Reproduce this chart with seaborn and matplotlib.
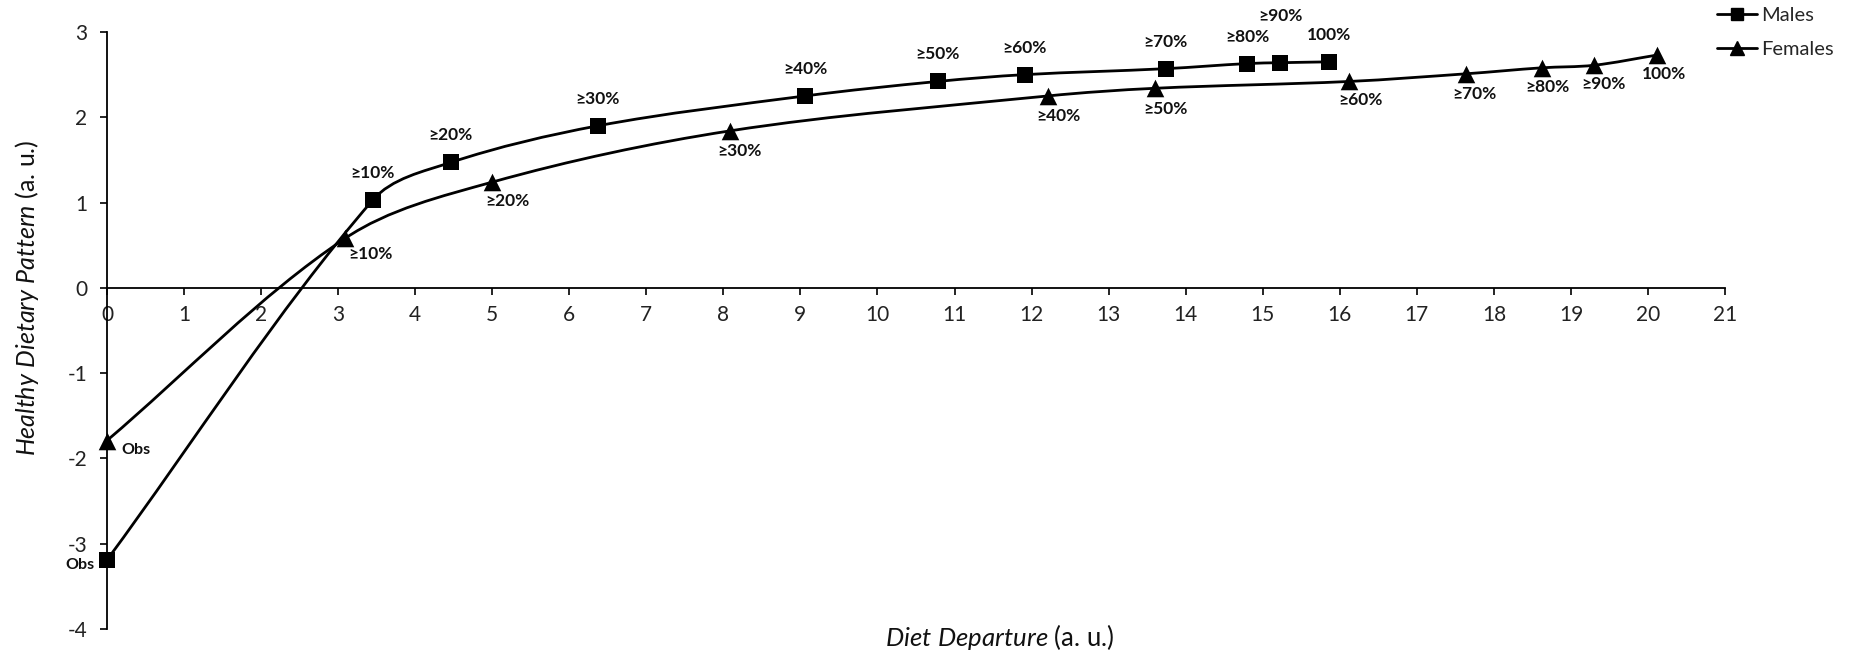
import numpy as np
import pandas as pd
import matplotlib
matplotlib.use("Agg")
import matplotlib.pyplot as plt
import seaborn as sns
from matplotlib.path import Path
from matplotlib.patches import PathPatch
from matplotlib.lines import Line2D

# ---------------- data ----------------
point_labels = ["Obs", "≥10%", "≥20%", "≥30%", "≥40%", "≥50%",
                "≥60%", "≥70%", "≥80%", "≥90%", "100%"]
males_x = [0.0, 3.45, 4.46, 6.37, 9.06, 10.78, 11.91, 13.74, 14.80, 15.23, 15.86]
males_y = [-3.19, 1.03, 1.47, 1.90, 2.25, 2.42, 2.50, 2.57, 2.63, 2.64, 2.65]
females_x = [0.0, 3.09, 5.00, 8.08, 12.21, 13.60, 16.12, 17.64, 18.62, 19.30, 20.12]
females_y = [-1.79, 0.58, 1.24, 1.84, 2.25, 2.34, 2.42, 2.51, 2.58, 2.61, 2.73]
series_names = ["Males", "Females"]
x_ticks = list(range(0, 22))
y_ticks = list(range(-4, 4))

df = pd.concat([
    pd.DataFrame({"x": males_x, "y": males_y, "label": point_labels, "Sex": "Males"}),
    pd.DataFrame({"x": females_x, "y": females_y, "label": point_labels, "Sex": "Females"}),
], ignore_index=True)

# ---------------- style ----------------
sns.set_theme(style="ticks")
plt.rcParams["font.family"] = ["Lato", "DejaVu Sans"]
plt.rcParams["mathtext.fontset"] = "custom"
plt.rcParams["mathtext.rm"] = "Lato"
plt.rcParams["mathtext.it"] = "Lato:italic"
plt.rcParams["mathtext.bf"] = "Lato:bold"
plt.rcParams["axes.unicode_minus"] = False

W, H = 1852, 657
fig = plt.figure(figsize=(W / 100, H / 100), dpi=100)
fig.patch.set_facecolor("white")
ax = fig.add_axes([107 / W, 1 - 629 / H, (1725 - 107) / W, (629 - 32) / H])
ax.set_xlim(0, 21)
ax.set_ylim(-4, 3)

ax.spines["top"].set_visible(False)
ax.spines["right"].set_visible(False)
ax.spines["bottom"].set_position(("data", 0))
for s in ("left", "bottom"):
    ax.spines[s].set_color("black")
    ax.spines[s].set_linewidth(1.3)
ax.set_xticks(x_ticks)
ax.set_yticks(y_ticks)
ax.tick_params(axis="both", direction="out", length=5, width=1.2, color="black",
               labelsize=15, labelcolor="#222222")
ax.tick_params(axis="x", pad=7)
ax.tick_params(axis="y", pad=9)


def smooth_path(ax, xs, ys):
    pts = ax.transData.transform(np.column_stack([xs, ys]))
    n = len(pts)
    tang = []
    for i in range(n):
        if i == 0:
            d = pts[1] - pts[0]
        elif i == n - 1:
            d = pts[-1] - pts[-2]
        else:
            d = pts[i + 1] - pts[i - 1]
        tang.append(d / np.linalg.norm(d))
    verts = [pts[0]]
    codes = [Path.MOVETO]
    for i in range(n - 1):
        L = np.linalg.norm(pts[i + 1] - pts[i])
        c1 = pts[i] + tang[i] * L / 3
        c2 = pts[i + 1] - tang[i + 1] * L / 3
        verts += [c1, c2, pts[i + 1]]
        codes += [Path.CURVE4] * 3
    verts = ax.transData.inverted().transform(np.array(verts))
    return Path(verts, codes)


marker_map = {"Males": "s", "Females": "^"}
size_map = {"Males": 120, "Females": 160}
for name in series_names:
    sub = df[df["Sex"] == name]
    patch = PathPatch(smooth_path(ax, sub["x"].values, sub["y"].values),
                      facecolor="none", edgecolor="black", lw=2.0,
                      transform=ax.transData, zorder=3, clip_on=False)
    ax.add_patch(patch)
    sns.scatterplot(data=sub, x="x", y="y", marker=marker_map[name], s=size_map[name],
                    color="black", edgecolor="black", linewidth=0, ax=ax,
                    legend=False, zorder=4, clip_on=False)
ax.set_xlabel("")
ax.set_ylabel("")

# label offsets (pixels)
male_off = [(-13, -5, "right")] + [(0, 27, "center")] * 8 + [(0, 47, "center"), (0, 27, "center")]
female_off = [(14, -9, "left"), (25, -16, "center"), (15, -19, "center"), (10, -20, "center"),
              (11, -20, "center"), (11, -21, "center"), (11, -19, "center"), (8, -20, "center"),
              (6, -19, "center"), (9, -19, "center"), (7, -19, "center")]
for xs, ys, offs in ((males_x, males_y, male_off), (females_x, females_y, female_off)):
    for lab, xv, yv, (dx, dy, ha) in zip(point_labels, xs, ys, offs):
        ax.annotate(lab, (xv, yv), xytext=(dx, dy), textcoords="offset pixels",
                    ha=ha, va="center", fontsize=11.5 if lab == "Obs" else 12.5,
                    fontweight="bold", color="#111111", zorder=5)

# axis titles
fig.text(1000 / W, 1 - 637 / H, r"$\it{Diet\ Departure}$ (a. u.)", ha="center", va="center",
         fontsize=18.5, color="#111111")
fig.text(27 / W, 1 - 298 / H, r"$\it{Healthy\ Dietary\ Pattern}$ (a. u.)", ha="center",
         va="center", rotation=90, fontsize=18, color="#111111")

# legend
handles = [Line2D([], [], color="black", lw=2.0, marker="s", markersize=9),
           Line2D([], [], color="black", lw=2.0, marker="^", markersize=10)]
fig.legend(handles, series_names, loc="upper left", bbox_to_anchor=(1717 / W, 1 - 7 / H),
           frameon=False, fontsize=14.5, handlelength=2.0, handletextpad=0.2,
           labelspacing=0.85, borderpad=0, borderaxespad=0)

fig.savefig("out.png", dpi=100, facecolor="white")
